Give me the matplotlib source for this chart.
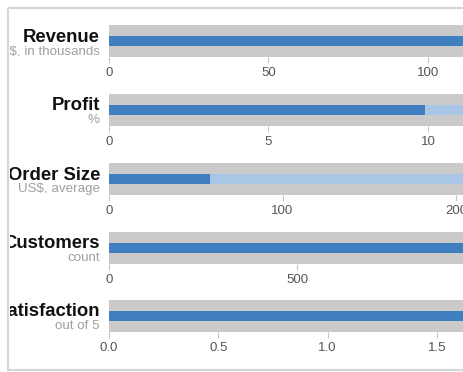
import matplotlib
matplotlib.use('Agg')
import matplotlib.pyplot as plt
from matplotlib.patches import Rectangle
from matplotlib.ticker import FormatStrFormatter

plt.rcParams['font.family'] = ['Liberation Sans', 'DejaVu Sans']

# bullet chart data, one entry per row
titles = ['Revenue', 'Profit', 'Order Size', 'Customers', 'Satisfaction']
subtitles = ['US$, in thousands', '%', 'US$, average', 'count', 'out of 5']
ranges = [[150, 225, 300], [20, 25, 30], [350, 500, 600],
          [1400, 2000, 2500], [3.5, 4.25, 5]]
measures = [[220, 270], [9.9, 23], [58, 320], [1000, 1650], [3.2, 4.7]]
markers = [250, 26, 550, 2100, 4.4]
ticks = [[0, 50, 100], [0, 5, 10], [0, 100, 200], [0, 500], [0, 0.5, 1.0, 1.5]]
tick_fmt = ['%d', '%d', '%d', '%d', '%.1f']
# part of each scale that fits in the panel
shown = [111, 11.1, 204, 941, 1.62]

range_colors = ['#eeeeee', '#dddddd', '#cacaca']
measure_colors = ['#aac6e6', '#3f7fbf']

W, H = 463, 372
fig = plt.figure(figsize=(W / 100, H / 100), dpi=100)

# background layer in pixel units for the frame and the row titles
bg = fig.add_axes([0, 0, 1, 1])
bg.set_xlim(0, W)
bg.set_ylim(H, 0)
bg.axis('off')
bg.add_patch(Rectangle((8, 8), W, 362, fill=False, ec='#d6d6d6', lw=1.6))
clip = Rectangle((9.5, 9), W, 360, transform=bg.transData)

x0 = 109
band_h = 32
row_top = [25, 94, 163, 232, 300]

for i, title in enumerate(titles):
    top = row_top[i]
    ax = fig.add_axes([x0 / W, 1 - (top + band_h) / H, (W - x0) / W, band_h / H])
    for r, c in zip(sorted(ranges[i], reverse=True), range_colors):
        ax.barh(0, r, height=1, color=c, lw=0)
    for m, c in zip(sorted(measures[i], reverse=True), measure_colors):
        ax.barh(0, m, height=1 / 3, color=c, lw=0)
    ax.plot([markers[i]] * 2, [-1 / 3, 1 / 3], color='black', lw=2)
    ax.set_xlim(0, shown[i])
    ax.set_ylim(-0.5, 0.5)
    for s in ax.spines.values():
        s.set_visible(False)
    ax.set_yticks([])
    ax.set_xticks(ticks[i])
    ax.xaxis.set_major_formatter(FormatStrFormatter(tick_fmt[i]))
    ax.tick_params(axis='x', length=4, width=0.8, color='#c4c4c4',
                   labelsize=9.5, labelcolor='#555555', pad=3.5)

    t = bg.text(100, top + 12, title, ha='right', va='center',
                fontsize=13.3, fontweight='bold', color='#111111')
    s = bg.text(100, top + 26, subtitles[i], ha='right', va='center',
                fontsize=9.6, color='#a0a0a0')
    for txt in (t, s):
        txt.set_clip_on(True)
        txt.set_clip_path(clip)

fig.savefig('out.png', dpi=100)
